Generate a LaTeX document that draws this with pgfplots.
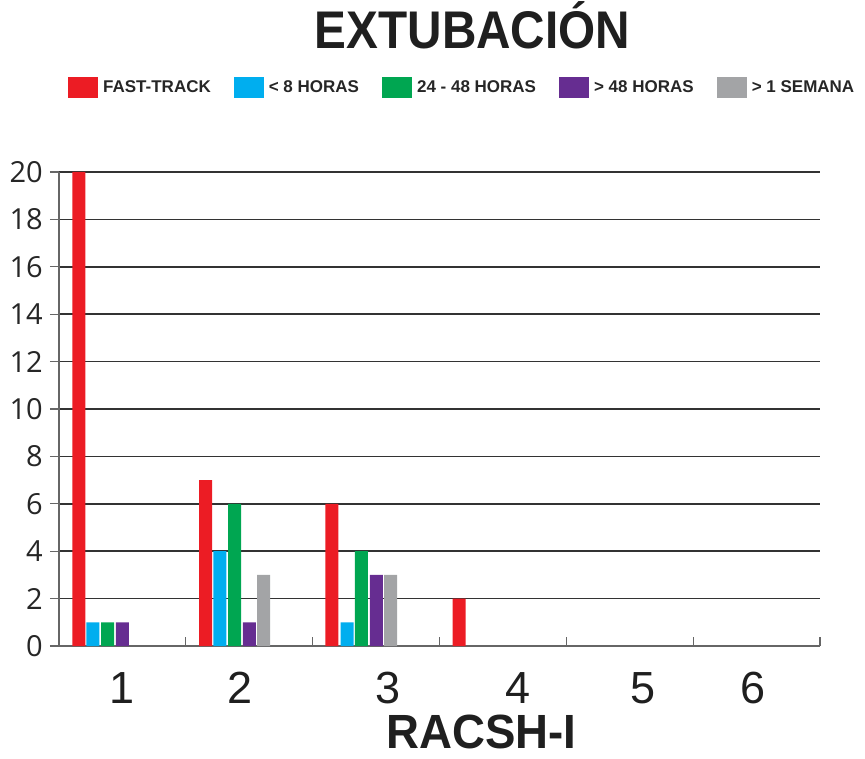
\documentclass[border=0pt]{standalone}
\usepackage{fontspec}
\setmainfont{Liberation Sans}
\newfontfamily\tickfont{Open Sans}
\usepackage{pgfplots}
\pgfplotsset{compat=1.18}
\definecolor{cRed}{HTML}{EC1C24}
\definecolor{cBlue}{HTML}{00AEEF}
\definecolor{cGreen}{HTML}{00A651}
\definecolor{cPurple}{HTML}{662D91}
\definecolor{cGray}{HTML}{A3A4A6}
\definecolor{cGrid}{HTML}{333333}
\begin{document}
\begin{tikzpicture}
\useasboundingbox (0,0) rectangle (865pt,758pt);
\begin{axis}[
  at={(59pt,112pt)}, anchor=south west,
  scale only axis, width=761pt, height=474pt,
  xmin=0, xmax=6, ymin=0, ymax=20,
  axis x line=bottom, axis y line=left,
  axis line style={-, draw=black!60, line width=1.4pt},
  ytick={0,2,...,20},
  ymajorgrids,
  major grid style={cGrid, line width=1.5pt},
  major tick length=9pt,
  xtick align=inside, ytick align=outside,
  tick style={draw=black!60, line width=1.3pt},
  xtick={1,2,3,4,5,6},
  xticklabels={,,,,,},
  extra x ticks={0.497,1.427,2.595,3.62,4.606,5.473},
  extra x tick labels={1,2,3,4,5,6},
  extra x tick style={major tick length=0pt},
  /pgf/number format/assume math mode=true,
  xticklabel style={font=\fontsize{45}{50}\selectfont, anchor=north, inner sep=0pt, yshift=-26pt, text=black!88},
  yticklabel style={font=\tickfont\fontsize{29}{34}\selectfont, anchor=east, inner sep=0pt, xshift=-7pt, text=black!85},
  title={\scalebox{0.9}[1]{EXTUBACIÓN}},
  title style={at={(axis description cs:0.5434,1.2474)}, anchor=base, inner sep=0pt, font=\fontsize{53}{60}\selectfont\bfseries, text=black!88},
  xlabel={\scalebox{0.95}[1]{RACSH-I}},
  xlabel style={at={(axis description cs:0.555,-0.2152)}, anchor=base, inner sep=0pt, font=\fontsize{48}{54}\selectfont\bfseries, text=black!88},
  legend columns=5,
  legend cell align=left,
  legend image code/.code={\fill[#1] (0pt,-10.5pt) rectangle (30pt,10.5pt);},
  legend style={at={(axis description cs:0.0118,1.1786)}, anchor=west, draw=none, fill=none, inner sep=0pt,
    font=\fontsize{17}{20}\selectfont\bfseries, text=black!85,
    /tikz/every odd column/.append style={column sep=3pt},
    /tikz/every even column/.append style={column sep=21pt}},
  every axis plot/.append style={ybar, bar width=13pt, bar shift=0pt, draw=none},
]
\addplot[ybar, fill=cRed, draw=none] coordinates {(0.156,20) (1.157,7) (2.152,6) (3.154,2)};
\addplot[ybar, fill=cBlue, draw=none] coordinates {(0.268,1) (1.269,4) (2.271,1)};
\addplot[ybar, fill=cGreen, draw=none] coordinates {(0.384,1) (1.385,6) (2.385,4)};
\addplot[ybar, fill=cPurple, draw=none] coordinates {(0.499,1) (1.500,1) (2.503,3)};
\addplot[ybar, fill=cGray, draw=none] coordinates {(1.614,3) (2.614,3)};
\legend{FAST-TRACK, < 8 HORAS, 24 - 48 HORAS, > 48 HORAS, > 1 SEMANA}
\end{axis}
\end{tikzpicture}
\end{document}
